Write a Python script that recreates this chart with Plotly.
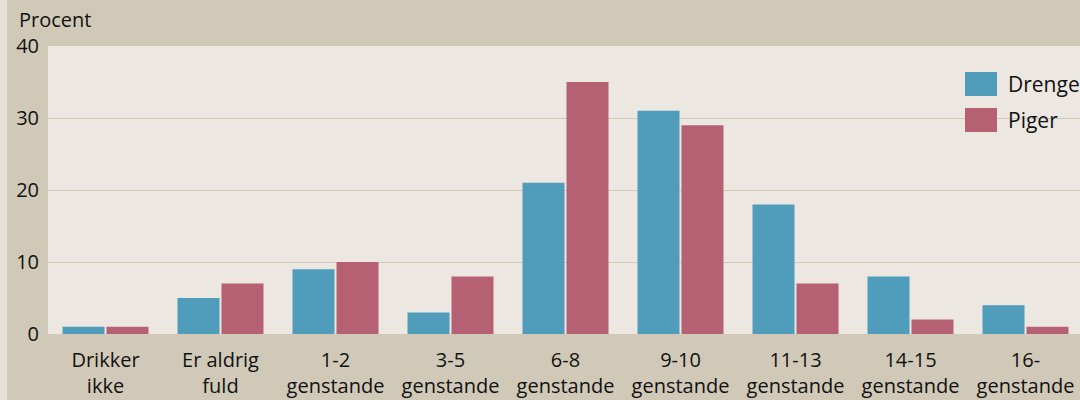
import plotly.graph_objects as go

categories = ["Drikker<br>ikke", "Er aldrig<br>fuld", "1-2<br>genstande", "3-5<br>genstande",
              "6-8<br>genstande", "9-10<br>genstande", "11-13<br>genstande",
              "14-15<br>genstande", "16-<br>genstande"]
drenge = [1, 5, 9, 3, 21, 31, 18, 8, 4]
piger = [1, 7, 10, 8, 35, 29, 7, 2, 1]
series_names = ["Drenge", "Piger"]
y_ticks = [0, 10, 20, 30, 40]

BLUE = "#509DBB"
PINK = "#B66074"
PAPER = "#D1C9B8"
PLOT = "#ECE7E1"
FONT = "Open Sans"

W, H = 1080, 400
ML, MR, MT, MB = 48, 0, 46, 66
pw = W - ML - MR
ph = H - MT - MB

fig = go.Figure()
fig.add_trace(go.Bar(x=list(range(len(categories))), y=drenge, name=series_names[0],
                     marker=dict(color=BLUE, line=dict(width=0)), showlegend=False))
fig.add_trace(go.Bar(x=list(range(len(categories))), y=piger, name=series_names[1],
                     marker=dict(color=PINK, line=dict(width=0)), showlegend=False))


def px_x(p):
    return (p - ML) / pw


def px_y(p):
    return (H - MB - p) / ph


# manual legend
for i, (name, col) in enumerate(zip(series_names, [BLUE, PINK])):
    y0 = 72 + i * 36
    fig.add_shape(type="rect", xref="paper", yref="paper",
                  x0=px_x(965), x1=px_x(997), y0=px_y(y0 + 24), y1=px_y(y0),
                  fillcolor=col, line=dict(width=0), layer="above")
    fig.add_annotation(xref="paper", yref="paper", x=px_x(1006), y=px_y(y0 + 12),
                       text=name, showarrow=False, xanchor="left", yanchor="middle",
                       font=dict(family=FONT, size=21, color="#111111"))

# left light strip
fig.add_shape(type="rect", xref="paper", yref="paper",
              x0=px_x(0), x1=px_x(7), y0=px_y(H), y1=px_y(0),
              fillcolor="#E6E1D6", line=dict(width=0), layer="below")

fig.add_annotation(xref="paper", yref="paper", x=px_x(17), y=px_y(19),
                   text="Procent", showarrow=False, xanchor="left", yanchor="middle",
                   font=dict(family=FONT, size=20, color="#111111"))

fig.update_layout(
    width=W, height=H,
    margin=dict(l=ML, r=MR, t=MT, b=MB, pad=0),
    paper_bgcolor=PAPER, plot_bgcolor=PLOT,
    barmode="group", bargap=0.235, bargroupgap=0.045,
    font=dict(family=FONT, size=20, color="#111111"),
    xaxis=dict(range=[-0.5, -0.5 + pw / 115], tickmode="array",
               tickvals=list(range(len(categories))), ticktext=categories,
               showgrid=False, zeroline=False, showline=False, ticks="",
               ticklabelstandoff=12,
               tickfont=dict(family=FONT, size=20, color="#111111")),
    yaxis=dict(range=[0, 40], tickvals=y_ticks, showgrid=True, gridcolor=PAPER,
               gridwidth=1, zeroline=False, showline=False, ticks="",
               ticklabelstandoff=8,
               tickfont=dict(family=FONT, size=20, color="#111111")),
)

fig.write_html("out.html", config={"displayModeBar": False},
               post_script="document.body.style.margin='0';document.body.style.overflow='hidden';")
